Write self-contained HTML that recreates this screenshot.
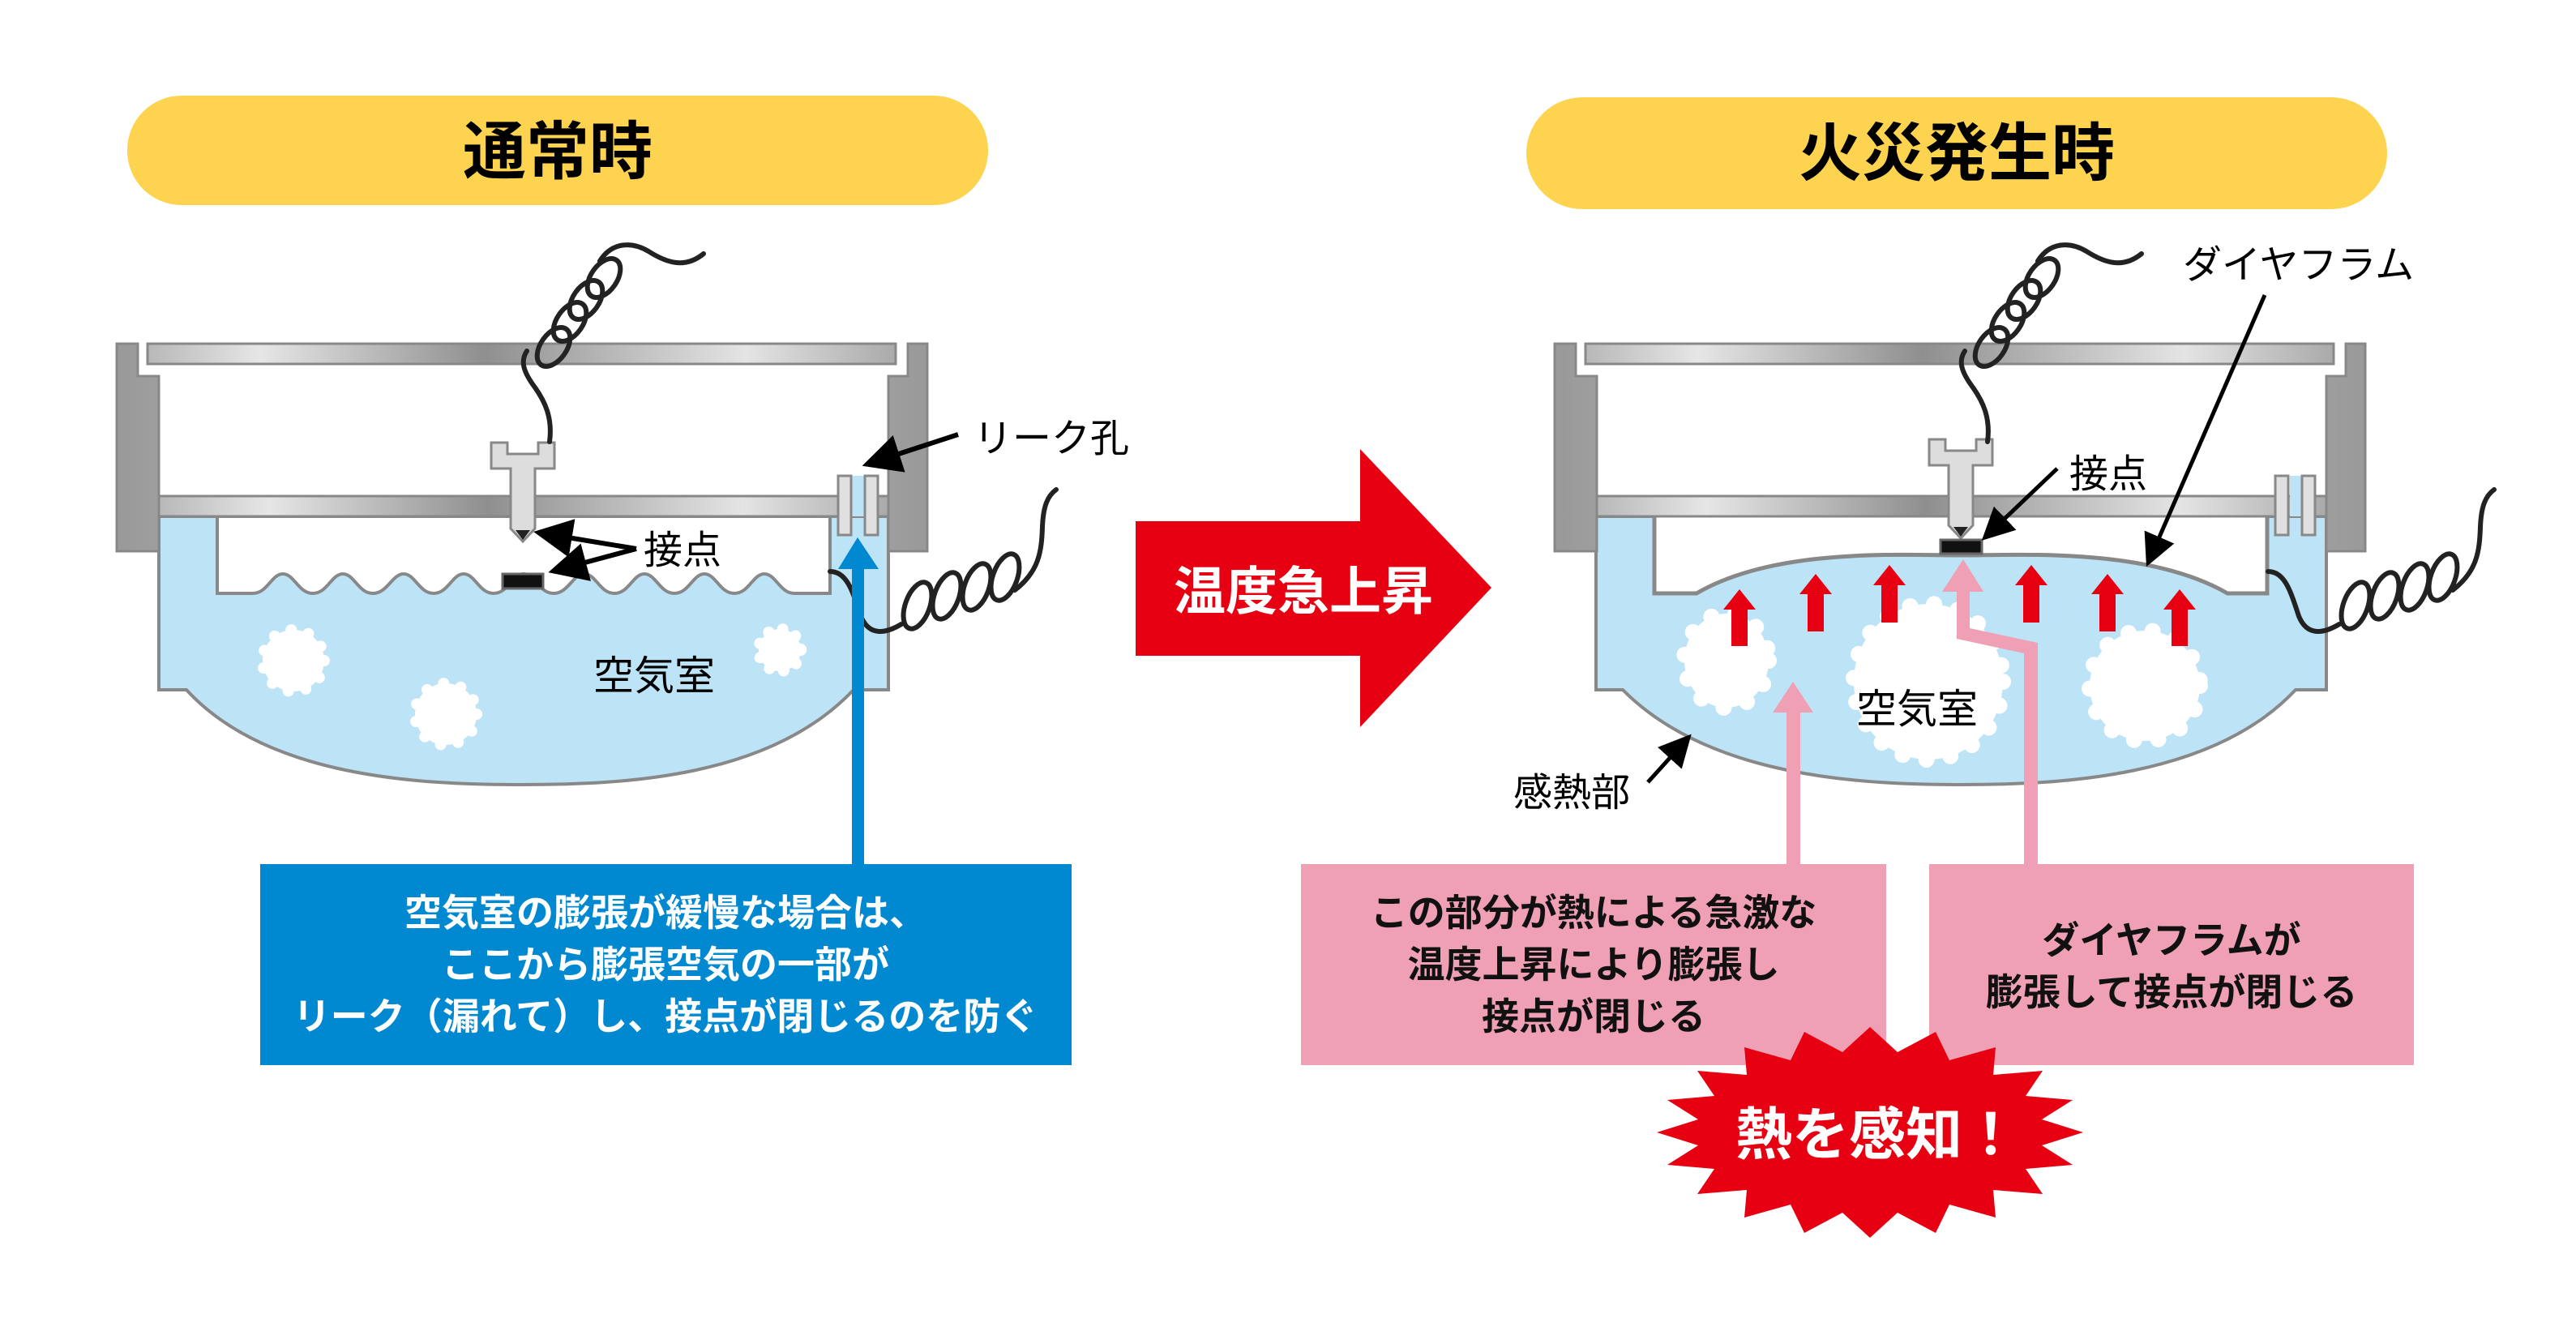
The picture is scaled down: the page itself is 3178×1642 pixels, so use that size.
<!DOCTYPE html>
<html><head><meta charset="utf-8"><style>
html,body{margin:0;padding:0;background:#fff}
svg{display:block}
text{font-family:"Liberation Sans","Noto Sans CJK JP",sans-serif}
</style></head><body>
<svg width="3178" height="1642" viewBox="0 0 3178 1642" xmlns="http://www.w3.org/2000/svg">
<defs>
<linearGradient id="mh" x1="0" x2="1" y1="0" y2="0">
<stop offset="0" stop-color="#b8b8b8"/><stop offset="0.15" stop-color="#e6e6e6"/><stop offset="0.45" stop-color="#8f8f8f"/><stop offset="0.8" stop-color="#e4e4e4"/><stop offset="1" stop-color="#aaa"/>
</linearGradient>
<linearGradient id="mv" x1="0" x2="1" y1="0" y2="0">
<stop offset="0" stop-color="#999"/><stop offset="0.5" stop-color="#cfcfcf"/><stop offset="1" stop-color="#999"/>
</linearGradient>
<marker id="ah" markerWidth="8" markerHeight="8" refX="6" refY="4" orient="auto" markerUnits="strokeWidth">
<path d="M0,0 L8,4 L0,8 Z" fill="#000"/></marker>
<g id="frame">
<path d="M144,424 H170 V464 H196 V612 H1096 V464 H1120 V424 H1144 V680 H1096 V637 H196 V680 H144 Z" fill="url(#mv)" stroke="#888" stroke-width="3"/>
<rect x="196" y="612" width="900" height="25" fill="url(#mh)" stroke="#888" stroke-width="3"/>
<rect x="182" y="424" width="923" height="25" fill="url(#mh)" stroke="#888" stroke-width="3"/>
</g>
<g id="screw">
<path d="M606,546 H626 V560 H664 V546 H684 V578 H660 V652 L645,668 L630,652 V578 H606 Z" fill="#ddd" stroke="#888" stroke-width="3"/>
<path d="M636,654 L654,654 L645,666 Z" fill="#222"/>
</g>
<g id="pipes">
<rect x="1034" y="587" width="16" height="73" fill="#e0e0e0" stroke="#888" stroke-width="3"/>
<rect x="1067" y="587" width="16" height="73" fill="#e0e0e0" stroke="#888" stroke-width="3"/>
</g>
<g id="wires" fill="none" stroke="#222" stroke-width="6" stroke-linecap="round">
<path d="M678,545 C682,515 672,495 660,478 C645,458 642,445 650,433"/>
<ellipse cx="683" cy="428" rx="27" ry="16" transform="rotate(-55 683 428)"/>
<ellipse cx="703" cy="397" rx="27" ry="16" transform="rotate(-55 703 397)"/>
<ellipse cx="723" cy="370" rx="27" ry="16" transform="rotate(-55 723 370)"/>
<ellipse cx="745" cy="343" rx="27" ry="16" transform="rotate(-55 745 343)"/>
<path d="M740,322 C755,298 780,298 800,310 C822,324 845,332 868,313"/>
<path d="M1024,705 C1045,705 1052,730 1062,760 C1072,785 1092,782 1112,770"/>
<ellipse cx="1132" cy="747" rx="15" ry="30" transform="rotate(20 1132 747)"/>
<ellipse cx="1168" cy="735" rx="15" ry="30" transform="rotate(20 1168 735)"/>
<ellipse cx="1205" cy="724" rx="15" ry="30" transform="rotate(20 1205 724)"/>
<ellipse cx="1240" cy="712" rx="15" ry="30" transform="rotate(20 1240 712)"/>
<path d="M1252,728 C1282,705 1285,680 1286,650 C1287,625 1292,612 1303,604"/>
</g>
</defs>

<rect x="157" y="118" width="1062" height="135" rx="67" fill="#fdd350"/>
<text x="688" y="214" font-size="78" font-weight="bold" text-anchor="middle">通常時</text>
<rect x="1883" y="120" width="1062" height="138" rx="69" fill="#fdd350"/>
<text x="2414" y="216" font-size="78" font-weight="bold" text-anchor="middle">火災発生時</text>

<path d="M196,637 V851 H230 C330,960 520,968 643,968 C770,968 950,960 1053,851 H1096 V637 Z" fill="#bde3f6" stroke="#888" stroke-width="4"/>
<path d="M268,637 V732 H312 C330,732 335,708 349,708 C363,708 368,732 386,732 C404,732 409,708 423,708 C437,708 442,732 460,732 C478,732 484,708 498,708 C512,708 517,732 535,732 C553,732 558,708 572,708 C586,708 591,732 609,732 C627,732 632,708 646,708 C660,708 665,732 683,732 C701,732 707,708 721,708 C735,708 740,732 758,732 C776,732 781,708 795,708 C809,708 814,732 832,732 C850,732 855,708 869,708 C883,708 888,732 906,732 C924,732 929,708 943,708 C957,708 962,732 980,732 H1024 V637 Z" fill="#fff" stroke="#888" stroke-width="4"/>
<g fill="#fff" stroke="#fff" stroke-width="14" stroke-dasharray="0 22" stroke-linecap="round">
<circle cx="362" cy="815" r="38"/><circle cx="550" cy="881" r="38"/><circle cx="962" cy="802" r="26" stroke-dasharray="0 18"/>
</g>
<use href="#frame"/>
<rect x="1051" y="587" width="15" height="50" fill="#bde3f6"/>
<use href="#pipes"/>
<use href="#screw"/>
<rect x="620" y="708" width="50" height="18" fill="#111" stroke="#666" stroke-width="3"/>
<use href="#wires"/>
<text x="732" y="851" font-size="50">空気室</text>
<text x="794" y="695" font-size="48">接点</text>
<g stroke="#000" stroke-width="6" fill="none">
<line x1="785" y1="677" x2="670" y2="658" marker-end="url(#ah)"/>
<line x1="785" y1="677" x2="688" y2="703" marker-end="url(#ah)"/>
<line x1="1182" y1="536" x2="1075" y2="571" marker-end="url(#ah)"/>
</g>
<text x="1201" y="557" font-size="48">リーク孔</text>
<rect x="1051" y="698" width="15" height="370" fill="#0088d1"/>
<polygon points="1034,702 1058,663 1084,702" fill="#0088d1"/>
<rect x="321" y="1066" width="1001" height="248" fill="#0088d1"/>
<g fill="#fff" font-size="46" font-weight="bold" text-anchor="middle">
<text x="821" y="1142">空気室の膨張が緩慢な場合は、</text>
<text x="821" y="1206">ここから膨張空気の一部が</text>
<text x="821" y="1270">リーク（漏れて）し、接点が閉じるのを防ぐ</text>
</g>

<polygon points="1401,643 1678,643 1678,554 1840,725 1678,897 1678,809 1401,809" fill="#e60012"/>
<text x="1608" y="752" font-size="64" font-weight="bold" fill="#fff" text-anchor="middle">温度急上昇</text>

<path d="M1969,637 V851 H2002 C2110,960 2300,968 2419,968 C2540,968 2730,960 2832,851 H2870 V637 Z" fill="#bde3f6" stroke="#888" stroke-width="4"/>
<path d="M2041,637 V732 H2093 C2190,675 2350,685 2419,685 C2490,685 2650,675 2748,732 H2797 V637 Z" fill="#fff"/>
<path d="M2041,637 V732 H2093 C2190,675 2350,685 2419,685 C2490,685 2650,675 2748,732 H2797 V637" fill="none" stroke="#888" stroke-width="5"/>
<g fill="#fff" stroke="#fff" stroke-width="20" stroke-dasharray="0 30" stroke-linecap="round">
<ellipse cx="2130" cy="815" rx="52" ry="58"/>
<ellipse cx="2379" cy="841" rx="92" ry="96"/>
<ellipse cx="2646" cy="846" rx="68" ry="68"/>
</g>
<use href="#frame" transform="translate(1774,0)"/>
<rect x="2825" y="587" width="15" height="50" fill="#bde3f6"/>
<use href="#pipes" transform="translate(1773,0)"/>
<use href="#screw" transform="translate(1774,-4)"/>
<rect x="2394" y="666" width="51" height="17" fill="#111" stroke="#666" stroke-width="3"/>
<use href="#wires" transform="translate(1774,0)"/>
<g fill="#e60012">
<rect x="2136" y="750" width="20" height="47"/><polygon points="2126,752 2146,727 2166,752"/>
<rect x="2230" y="731" width="20" height="48"/><polygon points="2220,733 2240,708 2260,733"/>
<rect x="2321" y="720" width="20" height="48"/><polygon points="2311,722 2331,697 2351,722"/>
<rect x="2496" y="720" width="20" height="48"/><polygon points="2486,722 2506,697 2526,722"/>
<rect x="2590" y="731" width="20" height="48"/><polygon points="2580,733 2600,708 2620,733"/>
<rect x="2679" y="750" width="20" height="47"/><polygon points="2669,752 2689,727 2709,752"/>
</g>
<g fill="#f0a0b4">
<rect x="2204" y="875" width="17" height="193"/><polygon points="2187,879 2212,841 2237,879"/>
<polygon points="2497,1068 2497,806 2414,788 2414,726 2430,726 2430,775 2514,793 2514,1068"/>
<polygon points="2396,730 2422,690 2447,730"/>
</g>
<text x="2290" y="892" font-size="50">空気室</text>
<text x="2553" y="601" font-size="48">接点</text>
<text x="2693" y="343" font-size="48">ダイヤフラム</text>
<text x="1867" y="994" font-size="48">感熱部</text>
<g stroke="#000" stroke-width="5" fill="none">
<line x1="2538" y1="578" x2="2452" y2="660" marker-end="url(#ah)"/>
<line x1="2794" y1="364" x2="2652" y2="690" marker-end="url(#ah)"/>
<line x1="2033" y1="965" x2="2080" y2="913" marker-end="url(#ah)"/>
</g>
<rect x="1605" y="1066" width="722" height="248" fill="#f0a0b4"/>
<rect x="2380" y="1066" width="598" height="248" fill="#f0a0b4"/>
<g font-size="46" font-weight="bold" text-anchor="middle" fill="#111">
<text x="1966" y="1142">この部分が熱による急激な</text>
<text x="1966" y="1206">温度上昇により膨張し</text>
<text x="1966" y="1270">接点が閉じる</text>
<text x="2679" y="1176">ダイヤフラムが</text>
<text x="2679" y="1240">膨張して接点が閉じる</text>
</g>
<polygon fill="#e60012" points="2570,1397 2519,1413 2557,1437 2499,1442 2520,1473 2459,1468 2462,1502 2405,1486 2388,1521 2341,1496 2307,1527 2273,1496 2226,1521 2209,1486 2152,1502 2155,1468 2094,1473 2115,1442 2057,1437 2095,1413 2044,1397 2095,1381 2057,1357 2115,1352 2094,1321 2155,1326 2152,1292 2209,1308 2226,1273 2273,1298 2307,1267 2341,1298 2388,1273 2405,1308 2462,1292 2459,1326 2520,1321 2499,1352 2557,1357 2519,1381"/>
<text x="2316" y="1424" font-size="70" font-weight="bold" fill="#fff" text-anchor="middle">熱を感知！</text>
</svg>
</body></html>
